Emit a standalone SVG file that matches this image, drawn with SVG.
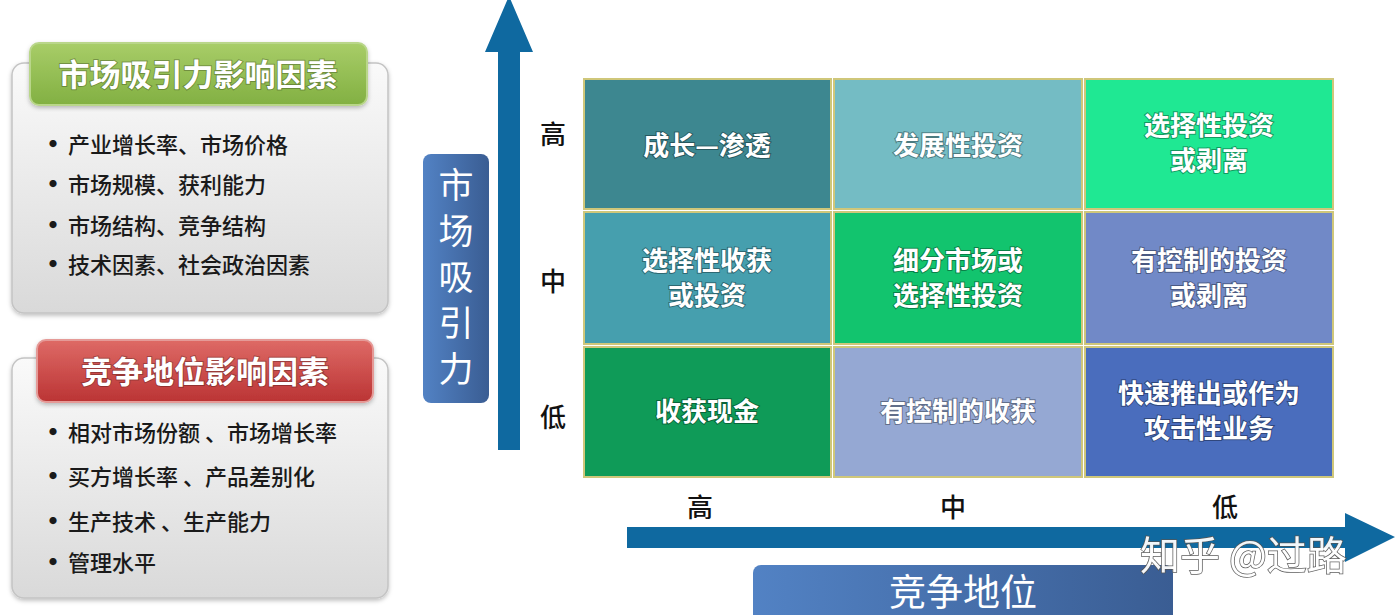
<svg xmlns="http://www.w3.org/2000/svg" width="1395" height="615" viewBox="0 0 1395 615">
<defs>
<linearGradient id="panelG" x1="0" y1="0" x2="0" y2="1"><stop offset="0" stop-color="#fafafa"/><stop offset="1" stop-color="#d9d9d9"/></linearGradient>
<linearGradient id="greenG" x1="0" y1="0" x2="0" y2="1"><stop offset="0" stop-color="#a8cd68"/><stop offset="1" stop-color="#82b042"/></linearGradient>
<linearGradient id="redG" x1="0" y1="0" x2="0" y2="1"><stop offset="0" stop-color="#de6a66"/><stop offset="1" stop-color="#bb3434"/></linearGradient>
<linearGradient id="blueG" x1="0" y1="0" x2="1" y2="0"><stop offset="0" stop-color="#5282c4"/><stop offset="1" stop-color="#3a5d93"/></linearGradient>
<filter id="sh" x="-5%" y="-5%" width="110%" height="115%"><feDropShadow dx="0" dy="2" stdDeviation="2" flood-color="#000" flood-opacity="0.25"/></filter>
</defs>
<style>
.cj{font-family:"Noto Sans CJK SC","Noto Sans",sans-serif}
.panel{fill:url(#panelG);stroke:#c4c4c4;stroke-width:1.5}
.head{font-size:31px;font-weight:700;fill:#fff;text-anchor:middle;stroke:rgba(0,0,0,0.25);stroke-width:2;paint-order:stroke}
.item{font-size:22px;font-weight:500;fill:#1a1a1a}
.bul{font-size:28px;font-weight:700;fill:#1a1a1a}
.cell{stroke:#cfc77a;stroke-width:2}
.ct{font-size:26px;font-weight:700;fill:#fff;text-anchor:middle;stroke:rgba(0,0,0,0.35);stroke-width:2;paint-order:stroke}
.ax{font-size:26px;font-weight:500;fill:#111;text-anchor:middle}
.arrow{fill:#0f69a0}
.lbl{font-size:37px;fill:#fff;text-anchor:middle}
.vl{font-size:35px;fill:#fff;text-anchor:middle}
</style>
<rect width="1395" height="615" fill="#fff"/>

<g id="panel-attract">
<rect class="panel" x="12" y="63" width="376" height="250" rx="12" filter="url(#sh)"/>
<rect x="30" y="43" width="337" height="62" rx="9" fill="url(#greenG)" stroke="#b9d68a" stroke-width="2" filter="url(#sh)"/>
<text class="cj head" x="198" y="86">市场吸引力影响因素</text>
<g class="cj">
<text class="bul" x="39" y="155">•</text><text class="item" x="68" y="153">产业增长率、市场价格</text>
<text class="bul" x="39" y="195">•</text><text class="item" x="68" y="193">市场规模、获利能力</text>
<text class="bul" x="39" y="236">•</text><text class="item" x="68" y="234">市场结构、竞争结构</text>
<text class="bul" x="39" y="275">•</text><text class="item" x="68" y="273">技术因素、社会政治因素</text>
</g>
</g>

<g id="panel-compete">
<rect class="panel" x="12" y="358" width="376" height="240" rx="12" filter="url(#sh)"/>
<rect x="37" y="340" width="336" height="62" rx="9" fill="url(#redG)" stroke="#e59a97" stroke-width="2" filter="url(#sh)"/>
<text class="cj head" x="205" y="383">竞争地位影响因素</text>
<g class="cj">
<text class="bul" x="39" y="443">•</text><text class="item" x="68" y="441">相对市场份额 、市场增长率</text>
<text class="bul" x="39" y="487">•</text><text class="item" x="68" y="485">买方增长率 、产品差别化</text>
<text class="bul" x="39" y="532">•</text><text class="item" x="68" y="530">生产技术 、生产能力</text>
<text class="bul" x="39" y="573">•</text><text class="item" x="68" y="571">管理水平</text>
</g>
</g>

<g id="axes">
<polygon class="arrow" points="498,450 520,450 520,52 533,52 509,-4 485,52 498,52"/>
<polygon class="arrow" points="627,527 1345,527 1345,513 1395,537 1345,562 1345,548 627,548"/>
</g>

<g id="label-y">
<rect x="423" y="154" width="66" height="249" rx="8" fill="url(#blueG)"/>
<g class="cj vl">
<text x="456" y="198">市</text>
<text x="456" y="244">场</text>
<text x="456" y="290">吸</text>
<text x="456" y="336">引</text>
<text x="456" y="382">力</text>
</g>
</g>

<g id="label-x">
<rect x="753" y="565" width="420" height="60" rx="8" fill="url(#blueG)"/>
<text class="cj lbl" x="963" y="606">竞争地位</text>
</g>

<g id="ticks" class="cj ax">
<text x="553" y="144">高</text>
<text x="553" y="291">中</text>
<text x="553" y="427">低</text>
<text x="700" y="517">高</text>
<text x="953" y="517">中</text>
<text x="1225" y="517">低</text>
</g>

<g id="grid">
<g id="c11"><rect class="cell" x="584" y="79" width="247" height="130" fill="#3d8790"/><text class="cj ct" x="707" y="155">成长—渗透</text></g>
<g id="c12"><rect class="cell" x="834" y="79" width="248" height="130" fill="#74bcc4"/><text class="cj ct" x="958" y="155">发展性投资</text></g>
<g id="c13"><rect class="cell" x="1085" y="79" width="248" height="130" fill="#1fe893"/><text class="cj ct" x="1209" y="135">选择性投资<tspan x="1209" dy="35">或剥离</tspan></text></g>
<g id="c21"><rect class="cell" x="584" y="212" width="247" height="132" fill="#469fae"/><text class="cj ct" x="707" y="270">选择性收获<tspan x="707" dy="35">或投资</tspan></text></g>
<g id="c22"><rect class="cell" x="834" y="212" width="248" height="132" fill="#12c46e"/><text class="cj ct" x="958" y="270">细分市场或<tspan x="958" dy="35">选择性投资</tspan></text></g>
<g id="c23"><rect class="cell" x="1085" y="212" width="248" height="132" fill="#7189c7"/><text class="cj ct" x="1209" y="270">有控制的投资<tspan x="1209" dy="35">或剥离</tspan></text></g>
<g id="c31"><rect class="cell" x="584" y="347" width="247" height="130" fill="#0f9b58"/><text class="cj ct" x="707" y="421">收获现金</text></g>
<g id="c32"><rect class="cell" x="834" y="347" width="248" height="130" fill="#95a8d3"/><text class="cj ct" x="958" y="421">有控制的收获</text></g>
<g id="c33"><rect class="cell" x="1085" y="347" width="248" height="130" fill="#4a6dbd"/><text class="cj ct" x="1209" y="403">快速推出或作为<tspan x="1209" dy="35">攻击性业务</tspan></text></g>
</g>

<text class="cj" x="1140" y="570" font-size="40" fill="#fff" stroke="#555" stroke-width="1.5" paint-order="stroke" opacity="0.95">知乎 @过路</text>
</svg>
